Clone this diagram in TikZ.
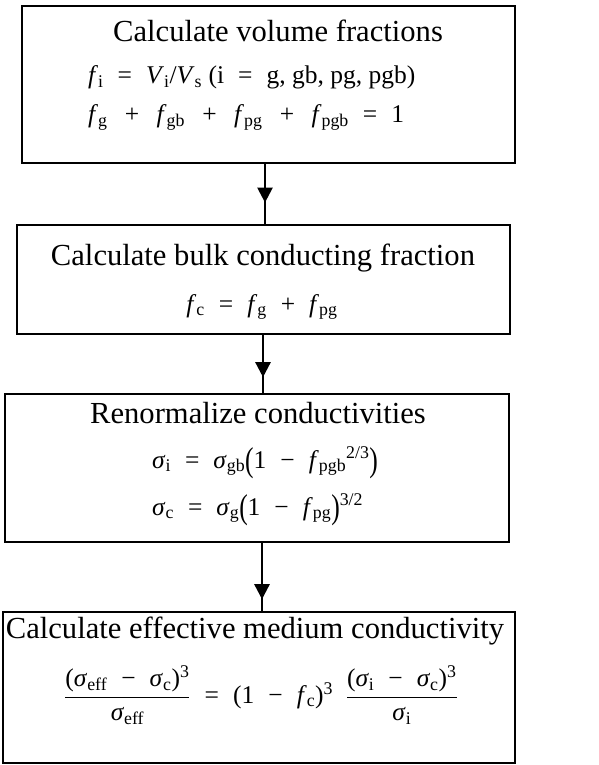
\documentclass[tikz,border=0pt]{standalone}
\usepackage{fontspec}
\usepackage{graphicx}
\setmainfont{Liberation Serif}
\usetikzlibrary{arrows.meta,decorations.markings}

% italic symbol with upright subscript
\newcommand{\vsub}[2]{\textit{#1}\textsubscript{#2}}
\newcommand{\sgsub}[1]{\textit{σ}\textsubscript{#1}}
\newcommand{\esign}{\hspace{0.55em}=\hspace{0.55em}}
\newcommand{\psign}{\hspace{0.55em}+\hspace{0.55em}}
\newcommand{\pwide}{\hspace{0.68em}+\hspace{0.68em}}
\newcommand{\msign}{\hspace{0.55em}−\hspace{0.55em}}
% tall parenthesis
\newcommand{\tallp}[1]{\raisebox{-0.12em}{\scalebox{1}[1.35]{#1}}}

\begin{document}
\begin{tikzpicture}[
  x=1pt, y=-1pt,
  stepbox/.style={
    rectangle,
    draw=black,
    line width=2.6pt,
    inner sep=0pt
  },
  ttl/.style={anchor=base, font=\fontsize{30.6}{36}\selectfont},
  eqn/.style={anchor=base west, font=\fontsize{25.5}{30}\selectfont, inner sep=0pt},
  flow/.style={
    line width=2.4pt,
    postaction={decorate},
    decoration={markings,
      mark=at position #1 with {\arrow{Triangle[length=15pt,width=15pt]}}}
  }
]
\useasboundingbox (0,0) rectangle (598,765);

% --- boxes ---
\node[stepbox, minimum width=493pt, minimum height=157pt] (vol)    at (268.5, 84.5) {};
\node[stepbox, minimum width=493pt, minimum height=109pt] (bulk)   at (263.5,279.5) {};
\node[stepbox, minimum width=504pt, minimum height=148pt] (renorm) at (257,  468)   {};
\node[stepbox, minimum width=512pt, minimum height=151pt] (emc)    at (259,  687.5) {};

% --- volume fractions ---
\node[ttl] (vol-t) at (278, 42) {Calculate volume fractions};
\node[eqn] (vol-e1) at (88, 84)
  {\vsub{f}{i}\esign\vsub{V}{i}/\vsub{V}{s}\ (i\esign g, gb, pg, pgb)};
\node[eqn] (vol-e2) at (88,123)
  {\vsub{f}{g}\pwide\vsub{f}{gb}\pwide\vsub{f}{pg}\pwide\vsub{f}{pgb}\esign 1};

% --- bulk conducting fraction ---
\node[ttl] (bulk-t) at (263,265) {Calculate bulk conducting fraction};
\node[eqn, anchor=base] (bulk-e) at (262,312)
  {\vsub{f}{c}\esign\vsub{f}{g}\psign\vsub{f}{pg}};

% --- renormalize ---
\node[ttl] (renorm-t) at (258,423) {Renormalize conductivities};
\node[eqn] (renorm-e1) at (152,468)
  {\sgsub{i}\esign\sgsub{gb}\tallp{(}1\msign\vsub{f}{pgb}\textsuperscript{2/3}\tallp{)}};
\node[eqn] (renorm-e2) at (152,515)
  {\sgsub{c}\esign\sgsub{g}\tallp{(}1\msign\vsub{f}{pg}\tallp{)}\textsuperscript{3/2}};

% --- effective medium ---
\node[ttl] (emc-t) at (255,638) {Calculate effective medium conductivity};
\node[eqn, anchor=center] (emc-e) at (261,695)
  {$\displaystyle\frac{\mbox{(\sgsub{eff}\msign\sgsub{c})\textsuperscript{3}}}{\mbox{\sgsub{eff}}}$%
   \esign(1\msign\vsub{f}{c})\textsuperscript{3}\enspace
   $\displaystyle\frac{\mbox{(\sgsub{i}\msign\sgsub{c})\textsuperscript{3}}}{\mbox{\sgsub{i}}}$};

% --- connectors ---
\draw[flow=0.645] ([xshift=-3.5pt]vol.south) -- ([xshift=-3.5pt]vol.south |- bulk.north);
\draw[flow=0.73]  ([xshift=-0.5pt]bulk.south) -- ([xshift=-0.5pt]bulk.south |- renorm.north);
\draw[flow=0.83]  ([xshift=5pt]renorm.south) -- ([xshift=5pt]renorm.south |- emc.north);

\end{tikzpicture}
\end{document}
